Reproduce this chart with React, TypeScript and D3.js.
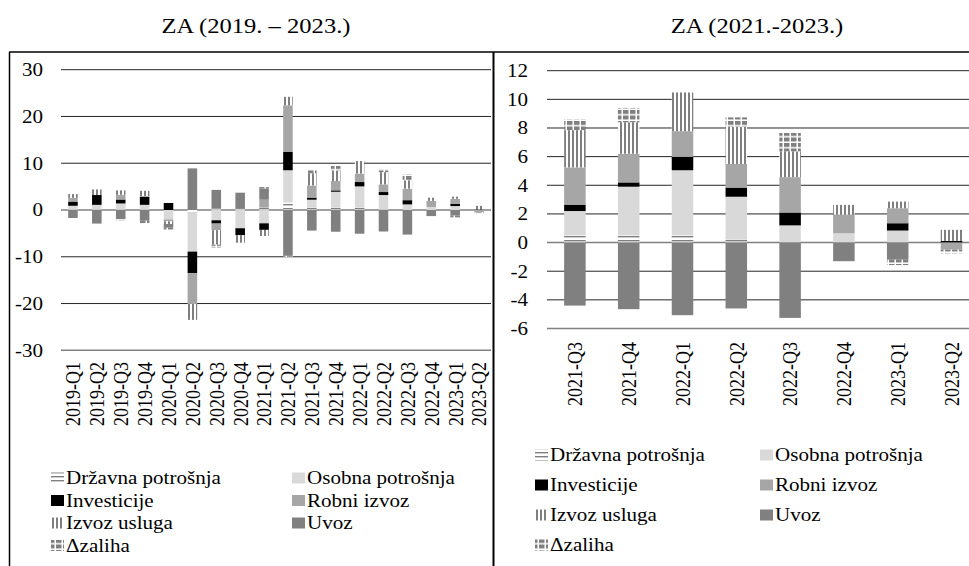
import React from 'react';
import * as d3 from 'd3';

const quarters = [
  '2019-Q1', '2019-Q2', '2019-Q3', '2019-Q4',
  '2020-Q1', '2020-Q2', '2020-Q3', '2020-Q4',
  '2021-Q1', '2021-Q2', '2021-Q3', '2021-Q4',
  '2022-Q1', '2022-Q2', '2022-Q3', '2022-Q4',
  '2023-Q1', '2023-Q2',
];
const drzavna = [0.2, 0.2, 0.2, 0.2, 0, -0.5, 0.3, 0.4, 0.5, 1.6, 0.5, 0.5, 0.5, 0.2, 0, 0, 0, 0];
const osobna = [0.7, 0.9, 1.2, 0.9, -2.0, -8.4, -2.2, -3.9, -2.85, 6.9, 1.7, 3.4, 4.55, 3.0, 1.2, 0.65, 0.84, 0];
const investicije = [0.9, 2.1, 0.85, 1.7, 1.5, -4.6, -0.7, -1.5, -1.4, 3.9, 0.45, 0.3, 0.93, 0.64, 0.9, 0, 0.51, 0.12];
const robni = [0.8, 0, 1.0, 0.2, -0.4, -6.6, -1.4, 0, 1.7, 10.0, 2.6, 2.0, 1.8, 1.65, 2.47, 1.3, 1.05, -0.5];
const usluge = [0.8, 1.2, 0.95, 1.1, -0.6, -3.4, -3.1, -1.6, -1.3, 1.8, 2.6, 2.2, 2.7, 2.6, 1.8, 0.68, 0.46, 0.77];
const uvoz = [-1.7, -2.9, -2.0, -2.3, -0.8, 8.9, 4.0, 3.3, 2.4, -9.8, -4.4, -4.65, -5.07, -4.6, -5.26, -1.3, -1.2, 0];
const zaliha = [0, 0, -0.2, -0.5, -0.6, 0, -0.7, 0, 0.3, -0.3, 0.75, 1.0, 0, 0.65, 1.28, 0, -0.37, -0.25];

const seriesNames = ['Državna potrošnja', 'Osobna potrošnja', 'Investicije', 'Robni izvoz', 'Izvoz usluga', 'Uvoz', 'Δzaliha'];
const seriesKeys = ['drzavna', 'osobna', 'investicije', 'robni', 'usluge', 'uvoz', 'zaliha'];
const seriesValues = [drzavna, osobna, investicije, robni, usluge, uvoz, zaliha];

const leftTicks = [-30, -20, -10, 0, 10, 20, 30];
const rightTicks = [-6, -4, -2, 0, 2, 4, 6, 8, 10, 12];
const leftTitle = 'ZA (2019. – 2023.)';
const rightTitle = 'ZA (2021.-2023.)';

const SX = 1.17;
const FONT = 'Liberation Serif, Tinos, Times New Roman, DejaVu Serif, serif';

function fillFor(key: string) {
  switch (key) {
    case 'drzavna': return 'url(#patH)';
    case 'osobna': return '#d9d9d9';
    case 'investicije': return '#000000';
    case 'robni': return '#a6a6a6';
    case 'usluge': return 'url(#patV)';
    case 'uvoz': return '#808080';
    case 'zaliha': return 'url(#patZ)';
  }
  return '#000';
}

type Row = { q: string; [k: string]: any };

function buildRows(start: number): Row[] {
  return quarters.slice(start).map((q, i) => {
    const r: Row = { q };
    seriesKeys.forEach((k, s) => { r[k] = seriesValues[s][start + i]; });
    return r;
  });
}

interface ChartProps {
  rows: Row[];
  xRange: [number, number];
  yDomain: [number, number];
  yRange: [number, number];
  ticks: number[];
  gridX: [number, number];
  tickLabelX: number;
  catLabelTop: number;
}

const textStyle = { fontFamily: FONT, fontSize: '18px' } as React.CSSProperties;

function Chart({ rows, xRange, yDomain, yRange, ticks, gridX, tickLabelX, catLabelTop }: ChartProps) {
  const x = d3.scaleBand<string>().domain(rows.map(r => r.q)).range(xRange).paddingInner(0.6).paddingOuter(0.3);
  const y = d3.scaleLinear().domain(yDomain).range(yRange);
  const stack = d3.stack<Row>().keys(seriesKeys).offset(d3.stackOffsetDiverging);
  const layers = stack(rows);
  return (
    <g>
      {ticks.map(t => {
        const isAxis = t === 0 || t === yDomain[0];
        return (
          <line key={'g' + t} x1={gridX[0]} x2={gridX[1]} y1={y(t)} y2={y(t)}
            stroke={isAxis ? '#808080' : '#262626'} strokeWidth={isAxis ? 1.5 : 1} />
        );
      })}
      {layers.map(layer => (
        <g key={layer.key} fill={fillFor(layer.key)}>
          {layer.map((d, i) => {
            const y0 = y(d[0]);
            const y1 = y(d[1]);
            const h = Math.abs(y0 - y1);
            if (h < 0.01) return null;
            return <rect key={i} x={x(d.data.q)} width={x.bandwidth()} y={Math.min(y0, y1)} height={h} />;
          })}
        </g>
      ))}
      {ticks.map(t => (
        <text key={'t' + t} transform={`translate(${tickLabelX},${y(t)}) scale(${SX},1)`}
          textAnchor="end" dy="0.35em" style={textStyle} fill="#000">{t}</text>
      ))}
      {rows.map(r => (
        <text key={'c' + r.q}
          transform={`translate(${(x(r.q) as number) + x.bandwidth() / 2},${catLabelTop}) scale(${SX},1) rotate(-90)`}
          textAnchor="end" dy="0.35em" style={textStyle} fill="#000">{r.q}</text>
      ))}
    </g>
  );
}

function Legend({ cols, rowsY }: { cols: number[]; rowsY: number[] }) {
  return (
    <g>
      {seriesNames.map((name, i) => {
        const cx = cols[i % 2];
        const cy = rowsY[Math.floor(i / 2)];
        return (
          <g key={name}>
            <rect x={cx} y={cy - 5.5} width={13} height={11} fill={fillFor(seriesKeys[i])} />
            <text transform={`translate(${cx + 15},${cy}) scale(${SX},1)`} dy="0.35em"
              style={textStyle} fill="#000">{name}</text>
          </g>
        );
      })}
    </g>
  );
}

export default function App() {
  const leftRows = buildRows(0);
  const rightRows = buildRows(10);
  const titleStyle = { fontFamily: FONT, fontSize: '21px' } as React.CSSProperties;
  return (
    <div style={{ position: 'absolute', left: 0, top: 0 }}>
      <svg width={969} height={566} style={{ display: 'block', background: '#fff' }}>
        <defs>
          <pattern id="patH" patternUnits="userSpaceOnUse" width={4} height={4}>
            <rect width={4} height={4} fill="#fff" />
            <rect y={0} width={4} height={1.4} fill="#7f7f7f" />
          </pattern>
          <pattern id="patV" patternUnits="userSpaceOnUse" width={4} height={4}>
            <rect width={4} height={4} fill="#fff" />
            <rect x={0} width={2} height={4} fill="#7f7f7f" />
          </pattern>
          <pattern id="patZ" patternUnits="userSpaceOnUse" width={7} height={5.5}>
            <rect width={7} height={5.5} fill="#fff" />
            <rect x={0} y={0} width={5.5} height={4} fill="#7f7f7f" />
          </pattern>
        </defs>
        <text transform={`translate(256,33) scale(${SX},1)`} textAnchor="middle" style={titleStyle}>{leftTitle}</text>
        <text transform={`translate(757,33) scale(${SX},1)`} textAnchor="middle" style={titleStyle}>{rightTitle}</text>
        <Chart rows={leftRows} xRange={[61, 491]} yDomain={[-30, 30]} yRange={[350.3, 69.7]} ticks={leftTicks}
          gridX={[61, 491]} tickLabelX={43} catLabelTop={362} />
        <Chart rows={rightRows} xRange={[548, 978.4]} yDomain={[-6, 12]} yRange={[328.5, 70.7]} ticks={rightTicks}
          gridX={[547, 980]} tickLabelX={528} catLabelTop={342} />
        <Legend cols={[51, 292]} rowsY={[478, 500.5, 523, 545.5]} />
        <Legend cols={[535, 760]} rowsY={[455, 485, 515, 545]} />
        <line x1={9} x2={969} y1={52} y2={52} stroke="#000" strokeWidth={1.5} />
        <line x1={9.5} x2={9.5} y1={52} y2={566} stroke="#000" strokeWidth={1.5} />
        <line x1={493.5} x2={493.5} y1={52} y2={566} stroke="#000" strokeWidth={2} />
      </svg>
    </div>
  );
}
